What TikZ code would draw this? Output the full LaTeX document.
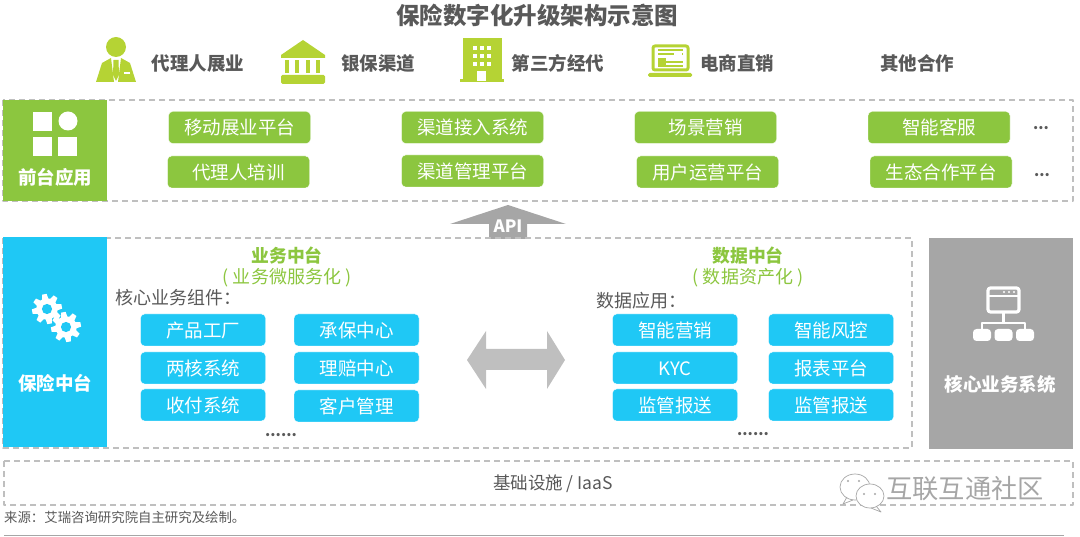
\documentclass[tikz,border=0pt]{standalone}
\usepackage{fontspec}
\setmainfont{Noto Sans CJK SC}
\definecolor{frontgreen}{HTML}{8CC63F}
\definecolor{icongreen}{HTML}{B5D334}
\definecolor{midblue}{HTML}{1FC8F5}
\definecolor{sysgray}{HTML}{A6A6A6}
\definecolor{arrowgray}{HTML}{BFBFBF}
\definecolor{textgray}{HTML}{595959}
\newcommand{\sizepx}[1]{\fontsize{#1}{#1}\selectfont}
\newcommand{\gearicon}[3]{%
	\fill[white] (#1,#2) circle (#3*0.72pt);
	\foreach \a in {0,45,...,315}
		\fill[white,shift={(#1,#2)},rotate=\a+10] (-#3*0.22,-#3*0.6) -- (-#3*0.15,-#3) -- (#3*0.15,-#3) -- (#3*0.22,-#3*0.6) -- cycle;
	\fill[midblue] (#1,#2) circle (#3*0.34pt);
}
\tikzset{
	cjkline/.style={text height=15pt, text depth=0pt, inner sep=0pt},
	groupbox/.style={draw=arrowgray, line width=1.1pt, dash pattern=on 6pt off 4pt},
	greenbox/.style={cjkline, fill=frontgreen, draw=white, rounded corners=4pt, minimum width=142pt, minimum height=32pt, text=white, font=\sizepx{18.5}},
	bluebox/.style={cjkline, fill=midblue, draw=white, rounded corners=4pt, minimum width=125pt, minimum height=32pt, text=white, font=\sizepx{18.5}},
	channel/.style={cjkline, text=textgray, font=\sizepx{18.5}\bfseries},
	sidelabel/.style={cjkline, text=white, font=\sizepx{18.5}\bfseries},
	headline/.style={cjkline, text=frontgreen, font=\sizepx{17.8}\bfseries},
	subline/.style={cjkline, text=frontgreen, font=\sizepx{18}},
	plainlabel/.style={cjkline, text=textgray, font=\sizepx{18}},
	moredots/.style={text=textgray, inner sep=0pt, font=\sizepx{15}\bfseries},
}
\begin{document}
\begin{tikzpicture}[x=1pt, y=-1pt, line join=round, line cap=butt]
	\useasboundingbox (0,0) rectangle (1080,537);
	\node[text=textgray, inner sep=0pt, font=\sizepx{23.5}\bfseries] (title) at (537,15) {保险数字化升级架构示意图};
	% channels
	\node[channel] (agent) at (198,63) {代理人展业};
	\node[channel] (bank) at (378,63) {银保渠道};
	\node[channel] (third) at (558,63) {第三方经代};
	\node[channel] (shop) at (737,63) {电商直销};
	\node[channel] (other) at (917,63) {其他合作};
	% person
	\fill[icongreen] (116,47) circle (10pt);
	\fill[icongreen] (96,82) -- (102,63) -- (111,58) -- (114,82) -- cycle;
	\fill[icongreen] (136,82) -- (130,63) -- (121,58) -- (118,82) -- cycle;
	\fill[icongreen] (113.5,60) -- (118.5,60) -- (119,75) -- (116,81) -- (113,75) -- cycle;
	\fill[white] (124,72) rectangle (130,74);
	% bank
	\fill[icongreen] (303,40) -- (325,55) -- (325,58) -- (281,58) -- (281,55) -- cycle;
	\foreach \x in {285,295,306,316}
		\fill[icongreen] (\x,60) rectangle (\x+4,73);
	\fill[icongreen, rounded corners=1.5pt] (281,75) rectangle (325,84);
	% building
	\fill[icongreen] (463,38) rectangle (502,79);
	\fill[icongreen] (460,79) rectangle (504,82);
	\foreach \x in {473,480,487}
		\foreach \y in {46,54,62}
			\fill[white] (\x,\y) rectangle (\x+4,\y+4);
	\fill[white] (477,71) rectangle (486,81);
	% laptop
	\draw[icongreen, line width=3pt, rounded corners=2pt] (653,46) rectangle (688,70);
	\fill[icongreen, rounded corners=1.5pt] (648,73) rectangle (692,77);
	\foreach \y in {50,54,62,66}
		\draw[icongreen, line width=1.4pt] (658,\y) -- (683,\y);
	\fill[icongreen] (658,58) rectangle (666,66);
	\fill[white] (674,51) rectangle (682,56);
	% front layer
	\draw[groupbox] (3,100) rectangle (1073,201);
	\fill[frontgreen] (3,100) rectangle (107,201);
	\fill[white] (33,112) rectangle (52,131);
	\fill[white] (68,121) circle (9.5pt);
	\fill[white] (33,137) rectangle (52,156);
	\fill[white] (58,137) rectangle (77,156);
	\node[sidelabel] (front) at (55,177) {前台应用};
	\foreach \name/\x/\y/\txt in {mobile/239.5/127.5/移动展业平台, access/472.5/127.5/渠道接入系统, scene/705.5/127.5/场景营销, service/939/127.5/智能客服, train/238.5/172/代理人培训, manage/472.5/171/渠道管理平台, operate/707.5/172/用户运营平台, partner/941/172/生态合作平台}
		\node[greenbox] (\name) at (\x,\y) {\txt};
	\node[moredots] (moreup) at (1041,128) {...};
	\node[moredots] (moredown) at (1042,175) {...};
	% api
	\fill[sysgray] (508,205) -- (566,224) -- (527,224) -- (527,239) -- (489,239) -- (489,224) -- (450,224) -- cycle;
	\node[text=white, inner sep=0pt, font=\sizepx{17}\bfseries] (api) at (508,226.5) {API};
	% middle layer
	\draw[groupbox] (3,238) rectangle (912,448);
	\fill[midblue] (3,237) rectangle (107,447);
	\gearicon{47}{309}{15}
	\gearicon{66}{327}{15}
	\node[sidelabel] (insure) at (55,383) {保险中台};
	\node[headline] (bizhead) at (287,255) {业务中台};
	\node[subline] (bizsub) at (287,276) {( 业务微服务化 )};
	\node[plainlabel, anchor=west] (bizcore) at (115,297) {核心业务组件：};
	\foreach \name/\x/\y/\txt in {factory/203/330/产品工厂, twocore/203/368/两核系统, payment/203/405/收付系统, accept/356.5/330/承保中心, claim/356.5/368/理赔中心, customer/356.5/406/客户管理}
		\node[bluebox] (\name) at (\x,\y) {\txt};
	\node[moredots] (bizmore) at (281,435) {......};
	\node[headline] (datahead) at (748,255) {数据中台};
	\node[subline] (datasub) at (748,276) {( 数据资产化 )};
	\node[plainlabel, anchor=west] (dataapp) at (596,300) {数据应用：};
	\foreach \name/\x/\y/\txt in {market/675/330/智能营销, kyc/675/368/KYC, superone/675/405/监管报送, risk/831/330/智能风控, report/831/368/报表平台, supertwo/831/405/监管报送}
		\node[bluebox] (\name) at (\x,\y) {\txt};
	\node[moredots] (datamore) at (753,434) {......};
	\fill[arrowgray] (467,360) -- (486,331) -- (486,349) -- (547,349) -- (547,331) -- (565,360) -- (547,389) -- (547,370) -- (486,370) -- (486,389) -- cycle;
	% core system
	\fill[sysgray] (929,238) rectangle (1073,449);
	\draw[white, line width=3.2pt, rounded corners=2.5pt] (988,288) rectangle (1019,312);
	\draw[white, line width=2.4pt] (988,296) -- (1019,296);
	\foreach \x in {1004,1009,1014}
		\fill[white] (\x,292) circle (1.1pt);
	\draw[white, line width=3pt] (1003.5,312) -- (1003.5,323);
	\draw[white, line width=2.6pt] (982,330) -- (982,323) -- (1025,323) -- (1025,330);
	\foreach \x in {973,994.5,1016}
		\fill[white, rounded corners=3.5pt] (\x,329) rectangle (\x+18,341);
	\node[sidelabel] (coresys) at (1000,384) {核心业务系统};
	% base layer
	\draw[groupbox] (4,461) rectangle (1073,505);
	\node[plainlabel, font=\sizepx{17.5}] (iaas) at (553,482) {基础设施 / IaaS};
	% watermark
	\draw[sysgray, line width=0.7pt, fill=white] (855,487) ellipse (15pt and 13pt);
	\draw[sysgray, line width=0.7pt] (847,497) -- (843,504) -- (853,500);
	\draw[sysgray, line width=0.7pt, fill=white] (870,496) ellipse (14pt and 12pt);
	\draw[sysgray, line width=0.7pt] (876,506) -- (881,512) -- (871,508);
	\foreach \x/\y in {848/481,859/481,864/494,875/494}
		\fill[sysgray] (\x,\y) circle (1.2pt);
	\node[text=sysgray, inner sep=0pt, font=\sizepx{26.3}] (mark) at (965,489) {互联互通社区};
	% source
	\node[text=textgray, anchor=west, inner sep=0pt, font=\sizepx{13.4}] (source) at (4,517) {来源：艾瑞咨询研究院自主研究及绘制。};
	\draw[sysgray, line width=0.8pt] (4,535) -- (1064,535);
\end{tikzpicture}
\end{document}
